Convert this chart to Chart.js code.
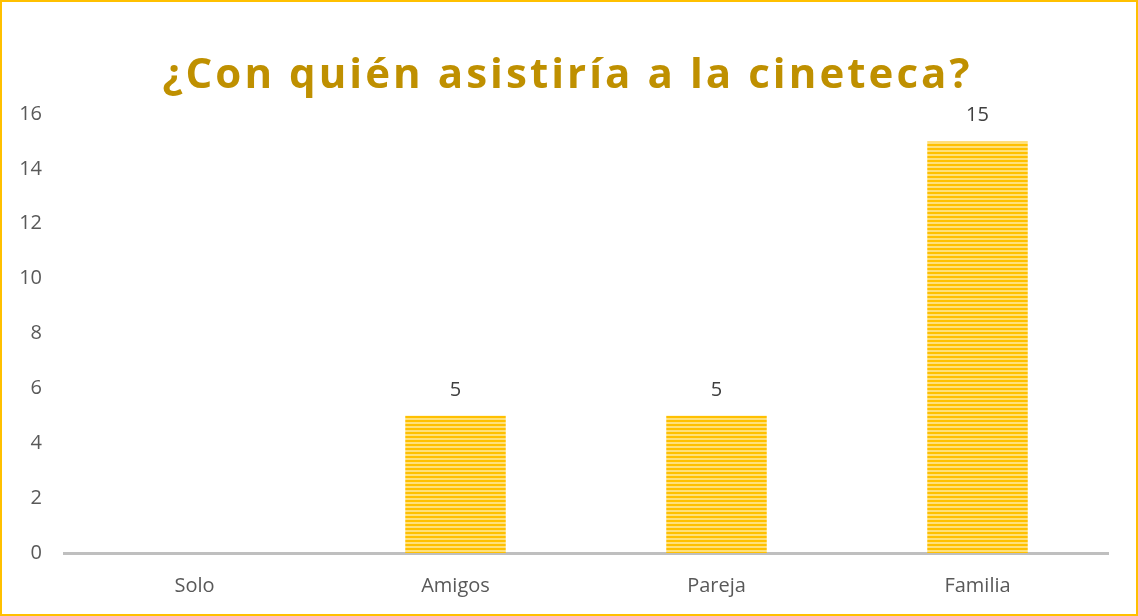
<!DOCTYPE html>
<html>
<head>
<meta charset="utf-8">
<script src="https://cdn.jsdelivr.net/npm/chart.js@4/dist/chart.umd.min.js"></script>
<style>
html,body{margin:0;padding:0;background:#fff;}
#wrap{position:relative;width:1138px;height:616px;}
canvas{display:block;}
</style>
</head>
<body>
<div id="wrap"><canvas id="c" width="1138" height="616"></canvas></div>
<script>
const titleText = "¿Con quién asistiría a la cineteca?";
const categories = ["Solo", "Amigos", "Pareja", "Familia"];
const values = [0, 5, 5, 15];
const yTicks = [0, 2, 4, 6, 8, 10, 12, 14, 16];

function stripePattern() {
  const p = document.createElement('canvas');
  p.width = 4; p.height = 4;
  const g = p.getContext('2d');
  g.fillStyle = '#FFC000'; g.fillRect(0, 0, 4, 2);
  g.fillStyle = '#FFE07A'; g.fillRect(0, 2, 4, 2);
  return g.createPattern(p, 'repeat');
}
const ctx0 = document.getElementById('c').getContext('2d');
const pat = stripePattern();

const extras = {
  id: 'extras',
  afterDraw(chart) {
    const ctx = chart.ctx;
    ctx.save();
    ctx.strokeStyle = '#FFC000';
    ctx.lineWidth = 2;
    ctx.strokeRect(1, 1, chart.width - 2, chart.height - 2);
    ctx.fillStyle = '#BF9000';
    ctx.font = 'bold 42px "Open Sans"';
    ctx.textBaseline = 'alphabetic';
    ctx.textAlign = 'center';
    const target = 807;
    ctx.letterSpacing = '0px';
    const w0 = ctx.measureText(titleText).width;
    const ls = Math.max(0, (target - w0) / (titleText.length - 1));
    ctx.letterSpacing = ls.toFixed(2) + 'px';
    ctx.fillText(titleText, 566 + ls / 2, 88);
    ctx.letterSpacing = '0px';
    ctx.fillStyle = '#404040';
    ctx.font = '20px "Open Sans"';
    ctx.textAlign = 'center';
    ctx.textBaseline = 'middle';
    const meta = chart.getDatasetMeta(0);
    meta.data.forEach((bar, i) => {
      if (values[i] > 0) ctx.fillText(String(values[i]), bar.x, bar.y - 26);
    });
    ctx.restore();
  }
};

new Chart(ctx0, {
  type: 'bar',
  data: {
    labels: categories,
    datasets: [{
      data: values,
      backgroundColor: pat,
      borderWidth: 0,
      barPercentage: 0.77,
      categoryPercentage: 0.5
    }]
  },
  options: {
    responsive: false,
    animation: false,
    layout: { padding: { top: 114, right: 30, bottom: 0, left: 0 } },
    plugins: { legend: { display: false }, title: { display: false }, tooltip: { enabled: false } },
    scales: {
      x: {
        grid: { display: false, drawTicks: false },
        border: { display: true, color: '#BFBFBF', width: 3 },
        ticks: { color: '#595959', font: { family: 'Open Sans', size: 20 }, padding: 21 },
        afterFit(s) { s.height = 63; }
      },
      y: {
        min: 0, max: 16,
        afterBuildTicks(s) { s.ticks = yTicks.map(v => ({ value: v })); },
        grid: { display: false, drawTicks: false },
        border: { display: false },
        ticks: { color: '#595959', font: { family: 'Open Sans', size: 20 }, padding: 22 },
        afterFit(s) { s.width = 64; }
      }
    }
  },
  plugins: [extras]
});
</script>
</body>
</html>
